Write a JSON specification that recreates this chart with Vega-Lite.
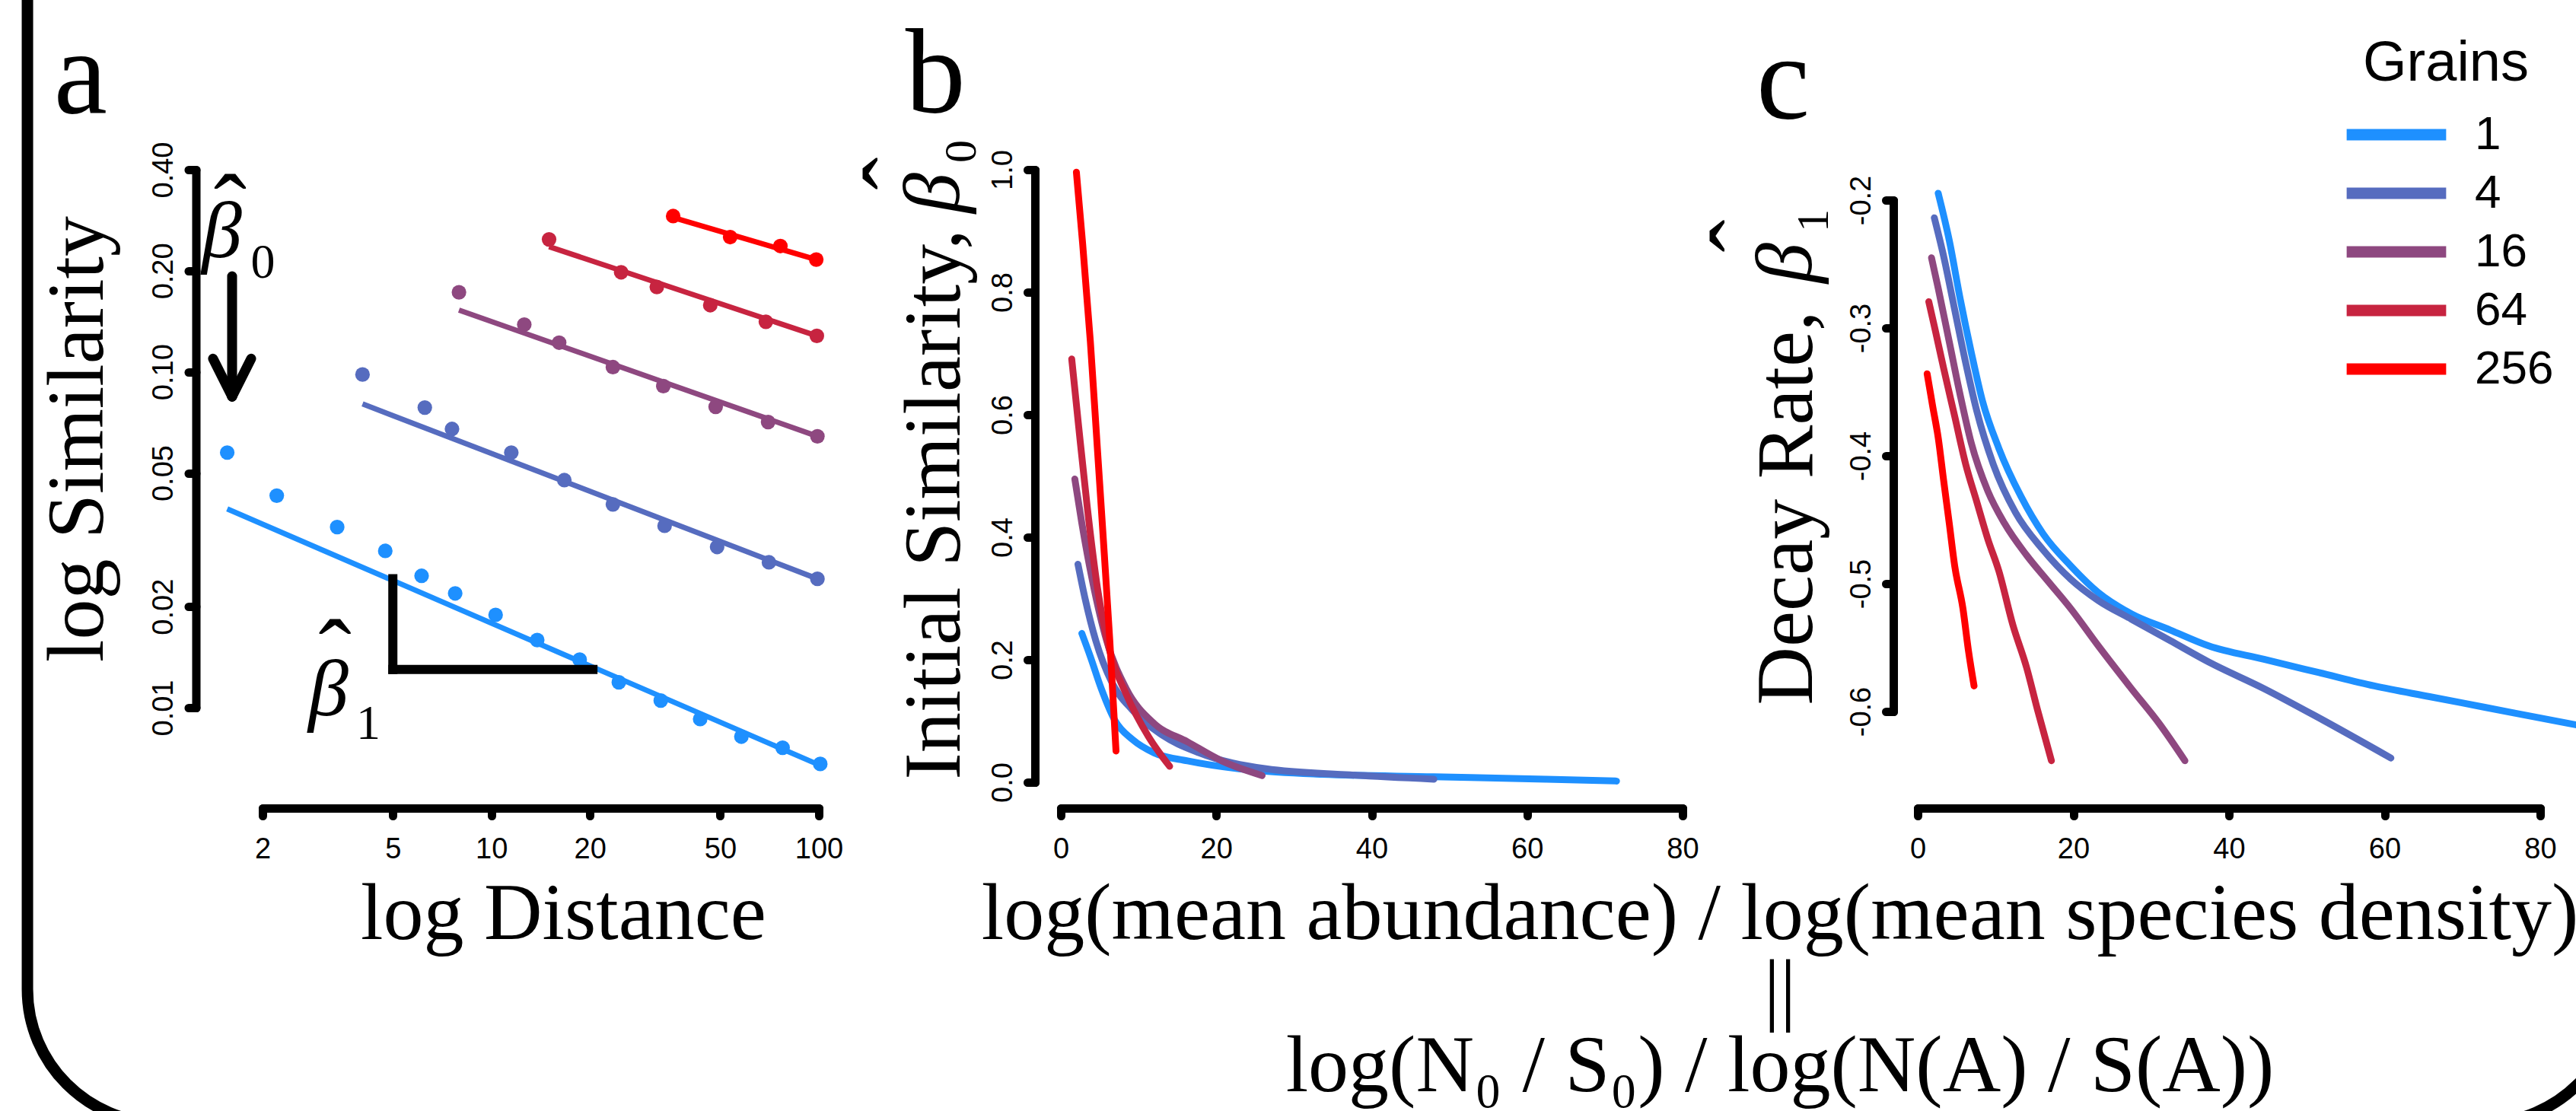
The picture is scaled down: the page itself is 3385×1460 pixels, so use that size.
{
 "$schema": "https://vega.github.io/schema/vega-lite/v6.json",
 "autosize": {"type": "none"},
 "padding": {"left": 345, "top": 223, "right": 3040, "bottom": 1237},
 "background": "white",
 "spacing": 309,
 "bounds": "flush",
 "config": {
  "view": {"stroke": null},
  "axis": {"domainColor": "black", "domainWidth": 11, "domainCap": "round", "tickColor": "black", "tickWidth": 11, "tickSize": 10, "tickCap": "round", "grid": false, "labelFont": "Liberation Sans", "labelFontSize": 38, "labelColor": "black", "labelFlush": false, "labelOverlap": false, "titleFont": "Liberation Serif", "titleFontSize": 106, "titleFontWeight": "normal", "titleColor": "black", "titleBaseline": "alphabetic"},
  "axisX": {"labelAngle": 0, "labelAlign": "center", "labelBaseline": "alphabetic", "labelPadding": 55},
  "axisY": {"labelAngle": 270, "labelAlign": "center", "labelBaseline": "alphabetic", "labelPadding": 21},
  "legend": {"orient": "none", "legendX": 2727, "legendY": -175, "padding": 0, "titleFont": "Liberation Sans", "titleFontSize": 74, "titleFontWeight": "normal", "titleColor": "black", "titleAnchor": "middle", "titleLimit": 1000, "titlePadding": 24, "labelFont": "Liberation Sans", "labelFontSize": 62, "labelColor": "black", "labelOffset": 72, "labelLimit": 1000, "symbolType": "M-3.44,0H3.44", "symbolSize": 1444, "symbolStrokeWidth": 15, "symbolOffset": 46, "rowPadding": 15}
 },
 "datasets": {
  "a_pts": [
   {"grains": "1", "distance": 1.56, "similarity": 0.0575}, {"grains": "1", "distance": 2.21, "similarity": 0.0428}, {"grains": "1", "distance": 3.38, "similarity": 0.0345}, {"grains": "1", "distance": 4.74, "similarity": 0.0293}, {"grains": "1", "distance": 6.12, "similarity": 0.0247}, {"grains": "1", "distance": 7.75, "similarity": 0.0219}, {"grains": "1", "distance": 10.3, "similarity": 0.0189}, {"grains": "1", "distance": 13.8, "similarity": 0.0159}, {"grains": "1", "distance": 18.6, "similarity": 0.0139}, {"grains": "1", "distance": 24.5, "similarity": 0.0119}, {"grains": "1", "distance": 32.9, "similarity": 0.0105}, {"grains": "1", "distance": 43.4, "similarity": 0.00925}, {"grains": "1", "distance": 58, "similarity": 0.0082}, {"grains": "1", "distance": 77.5, "similarity": 0.0076}, {"grains": "1", "distance": 101, "similarity": 0.0068},
   {"grains": "4", "distance": 4.04, "similarity": 0.0982}, {"grains": "4", "distance": 6.26, "similarity": 0.0783}, {"grains": "4", "distance": 7.58, "similarity": 0.0676}, {"grains": "4", "distance": 11.5, "similarity": 0.0575}, {"grains": "4", "distance": 16.7, "similarity": 0.0476}, {"grains": "4", "distance": 23.5, "similarity": 0.0403}, {"grains": "4", "distance": 33.8, "similarity": 0.0348}, {"grains": "4", "distance": 48.9, "similarity": 0.0301}, {"grains": "4", "distance": 70.4, "similarity": 0.0271}, {"grains": "4", "distance": 99, "similarity": 0.0242},
   {"grains": "16", "distance": 7.96, "similarity": 0.1726}, {"grains": "16", "distance": 12.6, "similarity": 0.1383}, {"grains": "16", "distance": 16.1, "similarity": 0.1222}, {"grains": "16", "distance": 23.5, "similarity": 0.1033}, {"grains": "16", "distance": 33.5, "similarity": 0.0907}, {"grains": "16", "distance": 48.4, "similarity": 0.0787}, {"grains": "16", "distance": 70, "similarity": 0.0709}, {"grains": "16", "distance": 99, "similarity": 0.0643},
   {"grains": "64", "distance": 15.0, "similarity": 0.248}, {"grains": "64", "distance": 24.9, "similarity": 0.198}, {"grains": "64", "distance": 32.0, "similarity": 0.179}, {"grains": "64", "distance": 46.6, "similarity": 0.158}, {"grains": "64", "distance": 68.9, "similarity": 0.141}, {"grains": "64", "distance": 98.6, "similarity": 0.128},
   {"grains": "256", "distance": 35.9, "similarity": 0.291}, {"grains": "256", "distance": 53.6, "similarity": 0.252}, {"grains": "256", "distance": 76.3, "similarity": 0.237}, {"grains": "256", "distance": 98.2, "similarity": 0.216}
  ],
  "a_fit": [
   {"grains": "1", "distance": 1.56, "similarity": 0.0391}, {"grains": "1", "distance": 101, "similarity": 0.00673},
   {"grains": "4", "distance": 4.04, "similarity": 0.0803}, {"grains": "4", "distance": 99, "similarity": 0.0242},
   {"grains": "16", "distance": 7.96, "similarity": 0.1528}, {"grains": "16", "distance": 99, "similarity": 0.0643},
   {"grains": "64", "distance": 15.0, "similarity": 0.236}, {"grains": "64", "distance": 98.6, "similarity": 0.128},
   {"grains": "256", "distance": 35.9, "similarity": 0.288}, {"grains": "256", "distance": 98.2, "similarity": 0.216}
  ],
  "b_lines": [
   {"grains": "1", "ratio": 2.7, "beta0": 0.243}, {"grains": "1", "ratio": 3.8, "beta0": 0.205}, {"grains": "1", "ratio": 5.2, "beta0": 0.153}, {"grains": "1", "ratio": 7.0, "beta0": 0.100}, {"grains": "1", "ratio": 9.2, "beta0": 0.070}, {"grains": "1", "ratio": 12.0, "beta0": 0.048}, {"grains": "1", "ratio": 16.3, "beta0": 0.035}, {"grains": "1", "ratio": 22.9, "beta0": 0.022}, {"grains": "1", "ratio": 33.6, "beta0": 0.013}, {"grains": "1", "ratio": 48.0, "beta0": 0.009}, {"grains": "1", "ratio": 62.4, "beta0": 0.005}, {"grains": "1", "ratio": 71.5, "beta0": 0.002},
   {"grains": "4", "ratio": 2.2, "beta0": 0.356}, {"grains": "4", "ratio": 3.1, "beta0": 0.301}, {"grains": "4", "ratio": 4.5, "beta0": 0.231}, {"grains": "4", "ratio": 6.6, "beta0": 0.162}, {"grains": "4", "ratio": 9.2, "beta0": 0.118}, {"grains": "4", "ratio": 12.8, "beta0": 0.079}, {"grains": "4", "ratio": 17.8, "beta0": 0.048}, {"grains": "4", "ratio": 26.4, "beta0": 0.022}, {"grains": "4", "ratio": 37.2, "beta0": 0.012}, {"grains": "4", "ratio": 48.0, "beta0": 0.005},
   {"grains": "16", "ratio": 1.8, "beta0": 0.495}, {"grains": "16", "ratio": 2.7, "beta0": 0.423}, {"grains": "16", "ratio": 4.1, "beta0": 0.327}, {"grains": "16", "ratio": 5.9, "beta0": 0.231}, {"grains": "16", "ratio": 8.4, "beta0": 0.153}, {"grains": "16", "ratio": 12.0, "beta0": 0.096}, {"grains": "16", "ratio": 16.3, "beta0": 0.066}, {"grains": "16", "ratio": 20.7, "beta0": 0.035}, {"grains": "16", "ratio": 25.9, "beta0": 0.011},
   {"grains": "64", "ratio": 1.4, "beta0": 0.691}, {"grains": "64", "ratio": 2.3, "beta0": 0.580}, {"grains": "64", "ratio": 3.4, "beta0": 0.449}, {"grains": "64", "ratio": 4.7, "beta0": 0.318}, {"grains": "64", "ratio": 6.3, "beta0": 0.214}, {"grains": "64", "ratio": 8.4, "beta0": 0.144}, {"grains": "64", "ratio": 11.3, "beta0": 0.074}, {"grains": "64", "ratio": 14.0, "beta0": 0.026},
   {"grains": "256", "ratio": 2.0, "beta0": 0.996}, {"grains": "256", "ratio": 2.8, "beta0": 0.880}, {"grains": "256", "ratio": 3.8, "beta0": 0.719}, {"grains": "256", "ratio": 4.7, "beta0": 0.545}, {"grains": "256", "ratio": 5.6, "beta0": 0.371}, {"grains": "256", "ratio": 6.3, "beta0": 0.231}, {"grains": "256", "ratio": 7.1, "beta0": 0.051}
  ],
  "c_lines": [
   {"grains": "1", "ratio": 2.63, "beta1": -0.1946}, {"grains": "1", "ratio": 4.05, "beta1": -0.2314}, {"grains": "1", "ratio": 5.46, "beta1": -0.2773}, {"grains": "1", "ratio": 6.88, "beta1": -0.3190}, {"grains": "1", "ratio": 8.30, "beta1": -0.3566}, {"grains": "1", "ratio": 10.43, "beta1": -0.3942}, {"grains": "1", "ratio": 13.27, "beta1": -0.4318}, {"grains": "1", "ratio": 16.11, "beta1": -0.4610}, {"grains": "1", "ratio": 19.66, "beta1": -0.4861}, {"grains": "1", "ratio": 23.21, "beta1": -0.5070}, {"grains": "1", "ratio": 27.46, "beta1": -0.5236}, {"grains": "1", "ratio": 32.43, "beta1": -0.5362}, {"grains": "1", "ratio": 37.40, "beta1": -0.5487}, {"grains": "1", "ratio": 44.50, "beta1": -0.5592}, {"grains": "1", "ratio": 51.59, "beta1": -0.5696}, {"grains": "1", "ratio": 58.69, "beta1": -0.5800}, {"grains": "1", "ratio": 65.78, "beta1": -0.5884}, {"grains": "1", "ratio": 72.88, "beta1": -0.5967}, {"grains": "1", "ratio": 83.5, "beta1": -0.6092}, {"grains": "1", "ratio": 86.0, "beta1": -0.6120},
   {"grains": "4", "ratio": 2.13, "beta1": -0.2138}, {"grains": "4", "ratio": 3.33, "beta1": -0.2439}, {"grains": "4", "ratio": 4.75, "beta1": -0.2857}, {"grains": "4", "ratio": 6.17, "beta1": -0.3274}, {"grains": "4", "ratio": 7.59, "beta1": -0.3650}, {"grains": "4", "ratio": 9.72, "beta1": -0.4068}, {"grains": "4", "ratio": 12.56, "beta1": -0.4443}, {"grains": "4", "ratio": 16.11, "beta1": -0.4736}, {"grains": "4", "ratio": 19.66, "beta1": -0.4965}, {"grains": "4", "ratio": 23.21, "beta1": -0.5132}, {"grains": "4", "ratio": 27.46, "beta1": -0.5278}, {"grains": "4", "ratio": 32.43, "beta1": -0.5445}, {"grains": "4", "ratio": 37.40, "beta1": -0.5613}, {"grains": "4", "ratio": 44.50, "beta1": -0.5821}, {"grains": "4", "ratio": 51.59, "beta1": -0.6051}, {"grains": "4", "ratio": 60.81, "beta1": -0.6364},
   {"grains": "16", "ratio": 1.77, "beta1": -0.2451}, {"grains": "16", "ratio": 2.63, "beta1": -0.2689}, {"grains": "16", "ratio": 4.05, "beta1": -0.3107}, {"grains": "16", "ratio": 5.46, "beta1": -0.3525}, {"grains": "16", "ratio": 6.88, "beta1": -0.3900}, {"grains": "16", "ratio": 9.01, "beta1": -0.4276}, {"grains": "16", "ratio": 11.14, "beta1": -0.4527}, {"grains": "16", "ratio": 13.98, "beta1": -0.4777}, {"grains": "16", "ratio": 16.81, "beta1": -0.4986}, {"grains": "16", "ratio": 19.66, "beta1": -0.5195}, {"grains": "16", "ratio": 23.21, "beta1": -0.5487}, {"grains": "16", "ratio": 27.46, "beta1": -0.5821}, {"grains": "16", "ratio": 31.01, "beta1": -0.6092}, {"grains": "16", "ratio": 34.34, "beta1": -0.6385},
   {"grains": "64", "ratio": 1.42, "beta1": -0.2794}, {"grains": "64", "ratio": 2.27, "beta1": -0.3023}, {"grains": "64", "ratio": 3.33, "beta1": -0.3316}, {"grains": "64", "ratio": 4.75, "beta1": -0.3691}, {"grains": "64", "ratio": 6.17, "beta1": -0.4067}, {"grains": "64", "ratio": 7.59, "beta1": -0.4360}, {"grains": "64", "ratio": 9.01, "beta1": -0.4652}, {"grains": "64", "ratio": 10.43, "beta1": -0.4902}, {"grains": "64", "ratio": 12.21, "beta1": -0.5320}, {"grains": "64", "ratio": 13.98, "beta1": -0.5654}, {"grains": "64", "ratio": 15.40, "beta1": -0.5988}, {"grains": "64", "ratio": 17.18, "beta1": -0.6385},
   {"grains": "256", "ratio": 1.21, "beta1": -0.3358}, {"grains": "256", "ratio": 1.91, "beta1": -0.3608}, {"grains": "256", "ratio": 2.63, "beta1": -0.3858}, {"grains": "256", "ratio": 3.33, "beta1": -0.4193}, {"grains": "256", "ratio": 4.05, "beta1": -0.4527}, {"grains": "256", "ratio": 4.75, "beta1": -0.4861}, {"grains": "256", "ratio": 5.81, "beta1": -0.5195}, {"grains": "256", "ratio": 6.53, "beta1": -0.5529}, {"grains": "256", "ratio": 7.24, "beta1": -0.5800}
  ]
 },
 "hconcat": [
  {
   "width": 740, "height": 707,
   "layer": [
    {"data": {"name": "a_fit"}, "mark": {"type": "line", "strokeWidth": 7},
     "encoding": {
      "x": {"field": "distance", "type": "quantitative", "scale": {"type": "log", "domain": [2, 100], "range": [0, 731], "nice": false},
            "axis": {"values": [2, 5, 10, 20, 50, 100], "format": "d", "offset": 132, "title": "log Distance", "titleX": 395, "titleY": 171, "titleAlign": "center", "titleAngle": 0}},
      "y": {"field": "similarity", "type": "quantitative", "scale": {"type": "log", "domain": [0.01, 0.4], "nice": false},
            "axis": {"values": [0.01, 0.02, 0.05, 0.1, 0.2, 0.4], "format": ".2f", "offset": 87.5, "title": "log Similarity", "titleX": -123, "titleY": 353.5, "titleAlign": "center", "titleAngle": 270}},
      "color": {"field": "grains", "type": "nominal", "title": "Grains", "scale": {"domain": ["1", "4", "16", "64", "256"], "range": ["#1E90FF", "#566CBF", "#8E4880", "#C72440", "#FF0000"]}}
     }},
    {"data": {"name": "a_pts"}, "mark": {"type": "circle", "size": 370, "opacity": 1},
     "encoding": {
      "x": {"field": "distance", "type": "quantitative"},
      "y": {"field": "similarity", "type": "quantitative"},
      "color": {"field": "grains", "type": "nominal", "title": "Grains", "scale": {"domain": ["1", "4", "16", "64", "256"], "range": ["#1E90FF", "#566CBF", "#8E4880", "#C72440", "#FF0000"]}}
     }},
    {"data": {"values": [{}]}, "mark": {"type": "rule", "strokeWidth": 13, "color": "black", "strokeCap": "round"},
     "encoding": {"x": {"datum": 1.6145, "type": "quantitative"}, "y": {"datum": 0.1926, "type": "quantitative"}, "y2": {"datum": 0.0844}}},
    {"data": {"values": [{}]}, "mark": {"type": "rule", "strokeWidth": 13, "color": "black", "strokeCap": "round"},
     "encoding": {"x": {"datum": 1.4119, "type": "quantitative"}, "x2": {"datum": 1.6145}, "y": {"datum": 0.1095, "type": "quantitative"}, "y2": {"datum": 0.0844}}},
    {"data": {"values": [{}]}, "mark": {"type": "rule", "strokeWidth": 13, "color": "black", "strokeCap": "round"},
     "encoding": {"x": {"datum": 1.8458, "type": "quantitative"}, "x2": {"datum": 1.6145}, "y": {"datum": 0.1095, "type": "quantitative"}, "y2": {"datum": 0.0844}}},
    {"data": {"values": [{}]}, "mark": {"type": "rule", "strokeWidth": 12, "color": "black", "strokeCap": "square"},
     "encoding": {"x": {"datum": 5, "type": "quantitative"}, "y": {"datum": 0.0242, "type": "quantitative"}, "y2": {"datum": 0.0130}}},
    {"data": {"values": [{}]}, "mark": {"type": "rule", "strokeWidth": 12, "color": "black", "strokeCap": "square"},
     "encoding": {"x": {"datum": 5, "type": "quantitative"}, "x2": {"datum": 20.42}, "y": {"datum": 0.0130, "type": "quantitative"}}},
    {"data": {"values": [{}]}, "mark": {"type": "text", "text": "β", "font": "Liberation Serif", "fontStyle": "italic", "fontSize": 106, "align": "left", "baseline": "alphabetic", "color": "black"},
     "encoding": {"x": {"datum": 1.3029, "type": "quantitative"}, "y": {"datum": 0.21972, "type": "quantitative"}}},
    {"data": {"values": [{}]}, "mark": {"type": "text", "text": "ˆ", "font": "Liberation Serif", "fontSize": 130, "align": "center", "baseline": "alphabetic", "color": "black"},
     "encoding": {"x": {"datum": 1.5929, "type": "quantitative"}, "y": {"datum": 0.24255, "type": "quantitative"}}},
    {"data": {"values": [{}]}, "mark": {"type": "text", "text": "0", "font": "Liberation Serif", "fontSize": 64, "align": "left", "baseline": "alphabetic", "color": "black"},
     "encoding": {"x": {"datum": 1.84, "type": "quantitative"}, "y": {"datum": 0.19089, "type": "quantitative"}}},
    {"data": {"values": [{}]}, "mark": {"type": "text", "text": "β", "font": "Liberation Serif", "fontStyle": "italic", "fontSize": 106, "align": "left", "baseline": "alphabetic", "color": "black"},
     "encoding": {"x": {"datum": 2.7578, "type": "quantitative"}, "y": {"datum": 0.009497, "type": "quantitative"}}},
    {"data": {"values": [{}]}, "mark": {"type": "text", "text": "ˆ", "font": "Liberation Serif", "fontSize": 130, "align": "center", "baseline": "alphabetic", "color": "black"},
     "encoding": {"x": {"datum": 3.3256, "type": "quantitative"}, "y": {"datum": 0.011457, "type": "quantitative"}}},
    {"data": {"values": [{}]}, "mark": {"type": "text", "text": "1", "font": "Liberation Serif", "fontSize": 64, "align": "left", "baseline": "alphabetic", "color": "black"},
     "encoding": {"x": {"datum": 3.8649, "type": "quantitative"}, "y": {"datum": 0.008079, "type": "quantitative"}}},
    {"data": {"values": [{}]}, "mark": {"type": "text", "text": "a", "font": "Liberation Serif", "fontSize": 158, "align": "left", "baseline": "alphabetic", "color": "black"},
     "encoding": {"x": {"datum": 0.46117, "type": "quantitative"}, "y": {"datum": 0.59097, "type": "quantitative"}}}
   ]
  },
  {
   "width": 817, "height": 805,
   "layer": [
    {"data": {"values": [{}]}, "mark": {"type": "rect", "filled": false, "stroke": "black", "strokeWidth": 15, "cornerRadius": 176},
     "encoding": {"x": {"datum": -132.97, "type": "quantitative"}, "x2": {"datum": 200.3}, "y": {"datum": 1.898, "type": "quantitative"}, "y2": {"datum": -0.5565}}},
    {"data": {"name": "b_lines"}, "mark": {"type": "line", "strokeWidth": 9, "strokeCap": "round", "interpolate": "monotone"},
     "encoding": {
      "x": {"field": "ratio", "type": "quantitative", "scale": {"domain": [0, 80], "nice": false, "zero": false},
            "axis": {"values": [0, 20, 40, 60, 80], "format": "d", "offset": 34, "title": ["log(mean abundance) / log(mean species density)", "||", "log(N₀ / S₀) / log(N(A) / S(A))"], "titleX": 944.5, "titleY": 171, "titleAlign": "center", "titleAngle": 0, "titleLineHeight": 100}},
      "y": {"field": "beta0", "type": "quantitative", "scale": {"domain": [0, 1], "nice": false, "zero": false},
            "axis": {"values": [0, 0.2, 0.4, 0.6, 0.8, 1], "format": ".1f", "offset": 34, "title": "Initial Similarity,", "titleX": -100, "titleY": 801, "titleAlign": "left", "titleAngle": 270}},
      "color": {"field": "grains", "type": "nominal", "title": "Grains", "scale": {"domain": ["1", "4", "16", "64", "256"], "range": ["#1E90FF", "#566CBF", "#8E4880", "#C72440", "#FF0000"]}}
     }},
    {"data": {"values": [{}]}, "mark": {"type": "text", "text": "b", "font": "Liberation Serif", "fontSize": 158, "align": "left", "baseline": "alphabetic", "color": "black"},
     "encoding": {"x": {"datum": -20.0, "type": "quantitative"}, "y": {"datum": 1.0944, "type": "quantitative"}}},
    {"data": {"values": [{}]}, "mark": {"type": "text", "text": "β", "font": "Liberation Serif", "fontStyle": "italic", "fontSize": 106, "align": "left", "baseline": "alphabetic", "angle": 270, "color": "black"},
     "encoding": {"x": {"datum": -13.12, "type": "quantitative"}, "y": {"datum": 0.9292, "type": "quantitative"}}},
    {"data": {"values": [{}]}, "mark": {"type": "text", "text": "ˆ", "font": "Liberation Serif", "fontSize": 130, "align": "center", "baseline": "alphabetic", "angle": 270, "color": "black"},
     "encoding": {"x": {"datum": -16.65, "type": "quantitative"}, "y": {"datum": 0.99379, "type": "quantitative"}}},
    {"data": {"values": [{}]}, "mark": {"type": "text", "text": "0", "font": "Liberation Serif", "fontSize": 60, "align": "left", "baseline": "alphabetic", "angle": 270, "color": "black"},
     "encoding": {"x": {"datum": -10.97, "type": "quantitative"}, "y": {"datum": 1.0112, "type": "quantitative"}}}
   ]
  },
  {
   "width": 818, "height": 712,
   "layer": [
    {"data": {"name": "c_lines"}, "mark": {"type": "line", "strokeWidth": 9, "strokeCap": "round", "interpolate": "monotone"},
     "encoding": {
      "x": {"field": "ratio", "type": "quantitative", "scale": {"domain": [0, 80], "nice": false, "zero": false},
            "axis": {"values": [0, 20, 40, 60, 80], "format": "d", "offset": 127, "title": null}},
      "y": {"field": "beta1", "type": "quantitative", "scale": {"domain": [-0.6, -0.2], "range": [712, 40], "nice": false, "zero": false},
            "axis": {"values": [-0.6, -0.5, -0.4, -0.3, -0.2], "labelExpr": "replace(format(datum.value, '.1f'), '\u2212', '-')", "offset": 32, "title": "Decay Rate,", "titleX": -108, "titleY": 703, "titleAlign": "left", "titleAngle": 270}},
      "color": {"field": "grains", "type": "nominal", "title": "Grains", "scale": {"domain": ["1", "4", "16", "64", "256"], "range": ["#1E90FF", "#566CBF", "#8E4880", "#C72440", "#FF0000"]}}
     }},
    {"data": {"values": [{}]}, "mark": {"type": "text", "text": "c", "font": "Liberation Serif", "fontSize": 158, "align": "left", "baseline": "alphabetic", "color": "black"},
     "encoding": {"x": {"datum": -20.74, "type": "quantitative"}, "y": {"datum": -0.1357, "type": "quantitative"}}},
    {"data": {"values": [{}]}, "mark": {"type": "text", "text": "β", "font": "Liberation Serif", "fontStyle": "italic", "fontSize": 106, "align": "left", "baseline": "alphabetic", "angle": 270, "color": "black"},
     "encoding": {"x": {"datum": -13.70, "type": "quantitative"}, "y": {"datum": -0.2649, "type": "quantitative"}}},
    {"data": {"values": [{}]}, "mark": {"type": "text", "text": "ˆ", "font": "Liberation Serif", "fontSize": 130, "align": "center", "baseline": "alphabetic", "angle": 270, "color": "black"},
     "encoding": {"x": {"datum": -17.90, "type": "quantitative"}, "y": {"datum": -0.22798, "type": "quantitative"}}},
    {"data": {"values": [{}]}, "mark": {"type": "text", "text": "1", "font": "Liberation Serif", "fontSize": 60, "align": "left", "baseline": "alphabetic", "angle": 270, "color": "black"},
     "encoding": {"x": {"datum": -11.55, "type": "quantitative"}, "y": {"datum": -0.225, "type": "quantitative"}}}
   ]
  }
 ]
}
